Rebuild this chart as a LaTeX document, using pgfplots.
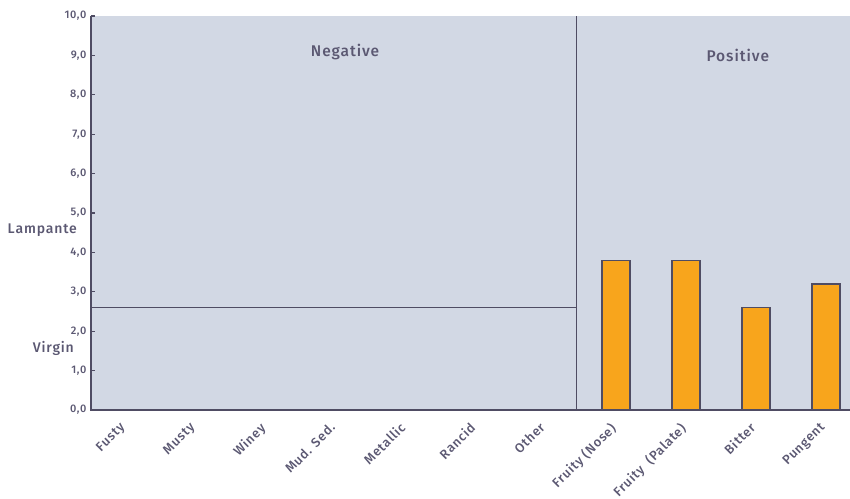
\documentclass[border=0pt]{standalone}
\usepackage{pgfplots}
\pgfplotsset{compat=1.18}
\usepackage{fontspec}
\setmainfont{Fira Sans}[LetterSpace=6, BoldFont={Fira Sans Medium}]
\definecolor{panel}{HTML}{D2D8E4}
\definecolor{txt}{HTML}{5B5872}
\definecolor{axl}{HTML}{4F4C63}
\definecolor{bar}{HTML}{F8A51C}
\begin{document}
\begin{tikzpicture}[x=1pt,y=1pt]
\begin{axis}[
    name=ax,
    scale only axis,
    width=759pt, height=394pt,
    xmin=-0.5, xmax=10.343,
    ymin=0, ymax=10,
    axis background/.style={fill=panel},
    axis line style={draw=none},
    axis x line*=bottom, axis y line*=left,
    ytick={0,1,...,10},
    /pgf/number format/fixed,
    /pgf/number format/fixed zerofill,
    /pgf/number format/precision=1,
    /pgf/number format/use comma,
    /pgf/number format/assume math mode=true,
    yticklabel style={font=\fontsize{11}{12}\selectfont\bfseries, text=txt, xshift=-1pt},
    major tick length=4pt,
    tick style={draw=axl, line width=1.2pt},
    xtick={0,...,10},
    xtick style={draw=none},
    xticklabels={Fusty,Musty,Winey,Mud. Sed.,Metallic,Rancid,Other,Fruity (Nose),Fruity \ (Palate),Bitter,Pungent},
    xticklabel style={rotate=45, anchor=north east, font=\fontsize{13}{15}\selectfont\bfseries, text=txt, inner sep=1pt, xshift=-12pt, yshift=-2pt},
    clip=false,
]
\addplot[ybar, bar width=0.4, fill=bar, draw=axl, line width=1.2pt, bar shift=0pt]
  coordinates {(7,3.8) (8,3.8) (9,2.6) (10,3.2)};
% threshold and divider
\draw[axl, line width=0.8pt] (axis cs:-0.5,2.6) -- (axis cs:6.43,2.6);
\draw[axl, line width=0.8pt] (axis cs:6.43,0) -- (axis cs:6.43,10);
% axis lines
\draw[axl, line width=1.5pt] (axis cs:-0.5,10) -- (axis cs:-0.5,0) -- (axis cs:10.343,0);
\node[text=txt, font=\fontsize{15.5}{17}\selectfont\bfseries] at (axis cs:3.13,9.09) {Negative};
\node[text=txt, font=\fontsize{15.5}{17}\selectfont\bfseries] at (axis cs:8.74,8.99) {Positive};
\node[text=txt, font=\fontsize{14}{16}\selectfont\bfseries, anchor=east, inner sep=0pt] at ([xshift=-14pt]axis cs:-0.5,4.57) {Lampante};
\node[text=txt, font=\fontsize{14}{16}\selectfont\bfseries, anchor=east, inner sep=0pt] at ([xshift=-17pt]axis cs:-0.5,1.57) {Virgin};
\end{axis}
\pgfresetboundingbox
\path[use as bounding box] ([shift={(-91pt,-88pt)}]ax.south west) rectangle ([shift={(0pt,16pt)}]ax.north east);
\end{tikzpicture}
\end{document}
